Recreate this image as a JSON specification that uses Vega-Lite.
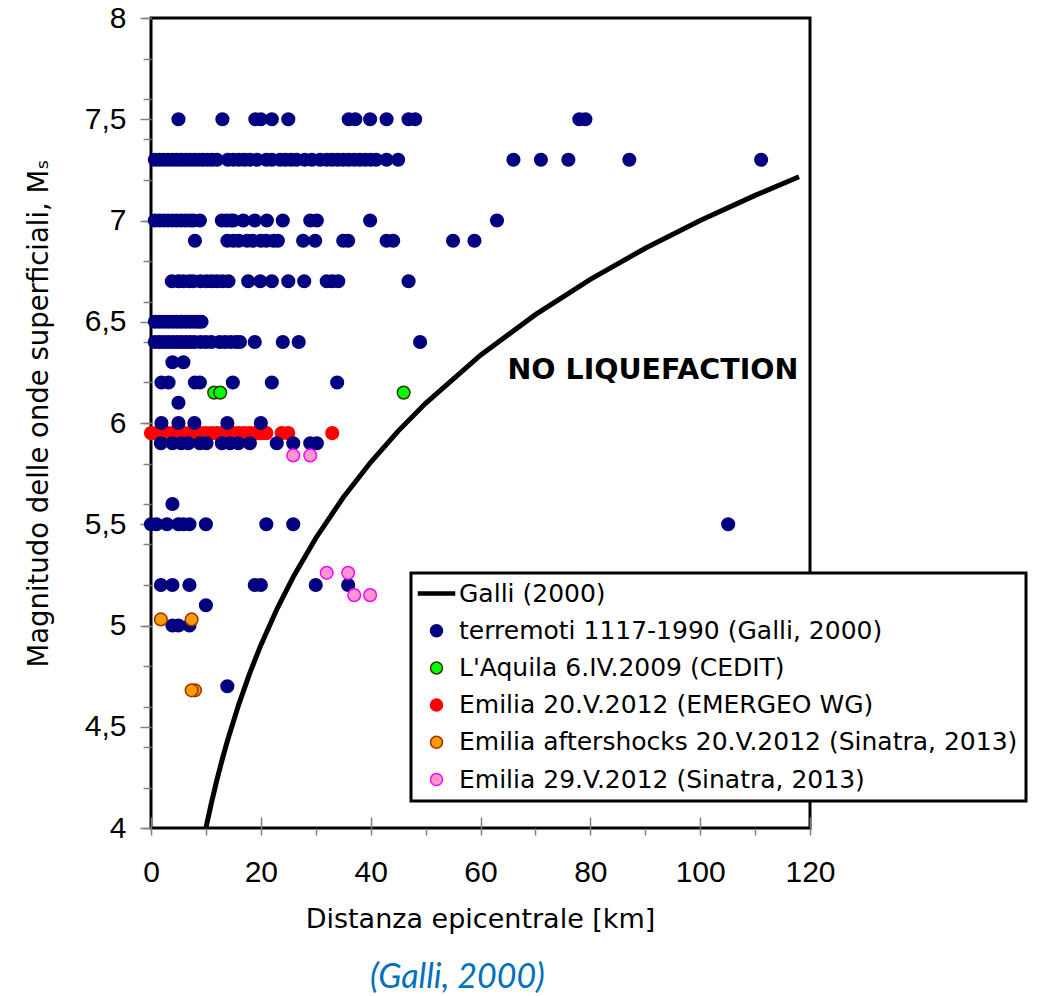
{
  "$schema": "https://vega.github.io/schema/vega-lite/v6.json",
  "width": 659,
  "height": 810,
  "autosize": {"type": "none"},
  "padding": {"left": 151, "top": 18, "right": 227, "bottom": 168},
  "background": "white",
  "config": {
    "view": {"stroke": "#000", "strokeWidth": 3},
    "legend": {"strokeWidth": 3},
    "axis": {
      "grid": false,
      "domain": false,
      "tickColor": "#808080",
      "tickWidth": 1.5,
      "labelFont": "Liberation Sans",
      "labelFontSize": 30,
      "labelColor": "#000",
      "labelOverlap": false,
      "labelFlush": false,
      "titleColor": "#000",
      "titleFont": "DejaVu Sans",
      "titleFontSize": 27,
      "titleFontWeight": "normal"
    }
  },
  "datasets": {
    "curve": [
      {"d": 10, "m": 4.0}, {"d": 11, "m": 4.124}, {"d": 12, "m": 4.238}, {"d": 13, "m": 4.342},
      {"d": 14, "m": 4.438}, {"d": 16, "m": 4.612}, {"d": 18, "m": 4.766}, {"d": 20, "m": 4.903},
      {"d": 23, "m": 5.085}, {"d": 26, "m": 5.245}, {"d": 30, "m": 5.431}, {"d": 35, "m": 5.632},
      {"d": 40, "m": 5.806}, {"d": 45, "m": 5.96}, {"d": 50, "m": 6.097}, {"d": 60, "m": 6.335},
      {"d": 70, "m": 6.535}, {"d": 80, "m": 6.709}, {"d": 90, "m": 6.863}, {"d": 100, "m": 7.0},
      {"d": 110, "m": 7.124}, {"d": 118, "m": 7.216}
    ],
    "pts": [
      {"s": "Emilia 20.V.2012 (EMERGEO WG)", "d": 0, "m": 5.95},
      {"s": "Emilia 20.V.2012 (EMERGEO WG)", "d": 1, "m": 5.95},
      {"s": "Emilia 20.V.2012 (EMERGEO WG)", "d": 2, "m": 5.95},
      {"s": "Emilia 20.V.2012 (EMERGEO WG)", "d": 3, "m": 5.95},
      {"s": "Emilia 20.V.2012 (EMERGEO WG)", "d": 4, "m": 5.95},
      {"s": "Emilia 20.V.2012 (EMERGEO WG)", "d": 5, "m": 5.95},
      {"s": "Emilia 20.V.2012 (EMERGEO WG)", "d": 6, "m": 5.95},
      {"s": "Emilia 20.V.2012 (EMERGEO WG)", "d": 7, "m": 5.95},
      {"s": "Emilia 20.V.2012 (EMERGEO WG)", "d": 8, "m": 5.95},
      {"s": "Emilia 20.V.2012 (EMERGEO WG)", "d": 9, "m": 5.95},
      {"s": "Emilia 20.V.2012 (EMERGEO WG)", "d": 10, "m": 5.95},
      {"s": "Emilia 20.V.2012 (EMERGEO WG)", "d": 11, "m": 5.95},
      {"s": "Emilia 20.V.2012 (EMERGEO WG)", "d": 12, "m": 5.95},
      {"s": "Emilia 20.V.2012 (EMERGEO WG)", "d": 13, "m": 5.95},
      {"s": "Emilia 20.V.2012 (EMERGEO WG)", "d": 14, "m": 5.95},
      {"s": "Emilia 20.V.2012 (EMERGEO WG)", "d": 15, "m": 5.95},
      {"s": "Emilia 20.V.2012 (EMERGEO WG)", "d": 16, "m": 5.95},
      {"s": "Emilia 20.V.2012 (EMERGEO WG)", "d": 17, "m": 5.95},
      {"s": "Emilia 20.V.2012 (EMERGEO WG)", "d": 18, "m": 5.95},
      {"s": "Emilia 20.V.2012 (EMERGEO WG)", "d": 19, "m": 5.95},
      {"s": "Emilia 20.V.2012 (EMERGEO WG)", "d": 20, "m": 5.95},
      {"s": "Emilia 20.V.2012 (EMERGEO WG)", "d": 21, "m": 5.95},
      {"s": "Emilia 20.V.2012 (EMERGEO WG)", "d": 23.8, "m": 5.95},
      {"s": "Emilia 20.V.2012 (EMERGEO WG)", "d": 25, "m": 5.95},
      {"s": "Emilia 20.V.2012 (EMERGEO WG)", "d": 33, "m": 5.95},

      {"s": "terremoti 1117-1990 (Galli, 2000)", "d": 5, "m": 7.5},
      {"s": "terremoti 1117-1990 (Galli, 2000)", "d": 13, "m": 7.5},
      {"s": "terremoti 1117-1990 (Galli, 2000)", "d": 19, "m": 7.5},
      {"s": "terremoti 1117-1990 (Galli, 2000)", "d": 20, "m": 7.5},
      {"s": "terremoti 1117-1990 (Galli, 2000)", "d": 22, "m": 7.5},
      {"s": "terremoti 1117-1990 (Galli, 2000)", "d": 25, "m": 7.5},
      {"s": "terremoti 1117-1990 (Galli, 2000)", "d": 36, "m": 7.5},
      {"s": "terremoti 1117-1990 (Galli, 2000)", "d": 37.2, "m": 7.5},
      {"s": "terremoti 1117-1990 (Galli, 2000)", "d": 39.9, "m": 7.5},
      {"s": "terremoti 1117-1990 (Galli, 2000)", "d": 42.9, "m": 7.5},
      {"s": "terremoti 1117-1990 (Galli, 2000)", "d": 46.9, "m": 7.5},
      {"s": "terremoti 1117-1990 (Galli, 2000)", "d": 48.1, "m": 7.5},
      {"s": "terremoti 1117-1990 (Galli, 2000)", "d": 78, "m": 7.5},
      {"s": "terremoti 1117-1990 (Galli, 2000)", "d": 79.1, "m": 7.5},

      {"s": "terremoti 1117-1990 (Galli, 2000)", "d": 0.7, "m": 7.3},
      {"s": "terremoti 1117-1990 (Galli, 2000)", "d": 1.5, "m": 7.3},
      {"s": "terremoti 1117-1990 (Galli, 2000)", "d": 2.3, "m": 7.3},
      {"s": "terremoti 1117-1990 (Galli, 2000)", "d": 3.1, "m": 7.3},
      {"s": "terremoti 1117-1990 (Galli, 2000)", "d": 3.9, "m": 7.3},
      {"s": "terremoti 1117-1990 (Galli, 2000)", "d": 4.7, "m": 7.3},
      {"s": "terremoti 1117-1990 (Galli, 2000)", "d": 5.5, "m": 7.3},
      {"s": "terremoti 1117-1990 (Galli, 2000)", "d": 6.3, "m": 7.3},
      {"s": "terremoti 1117-1990 (Galli, 2000)", "d": 7.1, "m": 7.3},
      {"s": "terremoti 1117-1990 (Galli, 2000)", "d": 7.9, "m": 7.3},
      {"s": "terremoti 1117-1990 (Galli, 2000)", "d": 8.7, "m": 7.3},
      {"s": "terremoti 1117-1990 (Galli, 2000)", "d": 9.5, "m": 7.3},
      {"s": "terremoti 1117-1990 (Galli, 2000)", "d": 10.3, "m": 7.3},
      {"s": "terremoti 1117-1990 (Galli, 2000)", "d": 11.1, "m": 7.3},
      {"s": "terremoti 1117-1990 (Galli, 2000)", "d": 12, "m": 7.3},
      {"s": "terremoti 1117-1990 (Galli, 2000)", "d": 14, "m": 7.3},
      {"s": "terremoti 1117-1990 (Galli, 2000)", "d": 15, "m": 7.3},
      {"s": "terremoti 1117-1990 (Galli, 2000)", "d": 16, "m": 7.3},
      {"s": "terremoti 1117-1990 (Galli, 2000)", "d": 17, "m": 7.3},
      {"s": "terremoti 1117-1990 (Galli, 2000)", "d": 18, "m": 7.3},
      {"s": "terremoti 1117-1990 (Galli, 2000)", "d": 19.3, "m": 7.3},
      {"s": "terremoti 1117-1990 (Galli, 2000)", "d": 21, "m": 7.3},
      {"s": "terremoti 1117-1990 (Galli, 2000)", "d": 22, "m": 7.3},
      {"s": "terremoti 1117-1990 (Galli, 2000)", "d": 23.5, "m": 7.3},
      {"s": "terremoti 1117-1990 (Galli, 2000)", "d": 24.5, "m": 7.3},
      {"s": "terremoti 1117-1990 (Galli, 2000)", "d": 25.5, "m": 7.3},
      {"s": "terremoti 1117-1990 (Galli, 2000)", "d": 26.5, "m": 7.3},
      {"s": "terremoti 1117-1990 (Galli, 2000)", "d": 28, "m": 7.3},
      {"s": "terremoti 1117-1990 (Galli, 2000)", "d": 29.3, "m": 7.3},
      {"s": "terremoti 1117-1990 (Galli, 2000)", "d": 30.8, "m": 7.3},
      {"s": "terremoti 1117-1990 (Galli, 2000)", "d": 32, "m": 7.3},
      {"s": "terremoti 1117-1990 (Galli, 2000)", "d": 33, "m": 7.3},
      {"s": "terremoti 1117-1990 (Galli, 2000)", "d": 34, "m": 7.3},
      {"s": "terremoti 1117-1990 (Galli, 2000)", "d": 35, "m": 7.3},
      {"s": "terremoti 1117-1990 (Galli, 2000)", "d": 36, "m": 7.3},
      {"s": "terremoti 1117-1990 (Galli, 2000)", "d": 37, "m": 7.3},
      {"s": "terremoti 1117-1990 (Galli, 2000)", "d": 38, "m": 7.3},
      {"s": "terremoti 1117-1990 (Galli, 2000)", "d": 39, "m": 7.3},
      {"s": "terremoti 1117-1990 (Galli, 2000)", "d": 40, "m": 7.3},
      {"s": "terremoti 1117-1990 (Galli, 2000)", "d": 41, "m": 7.3},
      {"s": "terremoti 1117-1990 (Galli, 2000)", "d": 42.9, "m": 7.3},
      {"s": "terremoti 1117-1990 (Galli, 2000)", "d": 45, "m": 7.3},
      {"s": "terremoti 1117-1990 (Galli, 2000)", "d": 66, "m": 7.3},
      {"s": "terremoti 1117-1990 (Galli, 2000)", "d": 71, "m": 7.3},
      {"s": "terremoti 1117-1990 (Galli, 2000)", "d": 76, "m": 7.3},
      {"s": "terremoti 1117-1990 (Galli, 2000)", "d": 87.1, "m": 7.3},
      {"s": "terremoti 1117-1990 (Galli, 2000)", "d": 111.1, "m": 7.3},

      {"s": "terremoti 1117-1990 (Galli, 2000)", "d": 0.7, "m": 7.0},
      {"s": "terremoti 1117-1990 (Galli, 2000)", "d": 1.5, "m": 7.0},
      {"s": "terremoti 1117-1990 (Galli, 2000)", "d": 2.3, "m": 7.0},
      {"s": "terremoti 1117-1990 (Galli, 2000)", "d": 3.1, "m": 7.0},
      {"s": "terremoti 1117-1990 (Galli, 2000)", "d": 3.9, "m": 7.0},
      {"s": "terremoti 1117-1990 (Galli, 2000)", "d": 4.7, "m": 7.0},
      {"s": "terremoti 1117-1990 (Galli, 2000)", "d": 5.5, "m": 7.0},
      {"s": "terremoti 1117-1990 (Galli, 2000)", "d": 6.3, "m": 7.0},
      {"s": "terremoti 1117-1990 (Galli, 2000)", "d": 7.1, "m": 7.0},
      {"s": "terremoti 1117-1990 (Galli, 2000)", "d": 7.7, "m": 7.0},
      {"s": "terremoti 1117-1990 (Galli, 2000)", "d": 8.9, "m": 7.0},
      {"s": "terremoti 1117-1990 (Galli, 2000)", "d": 12.9, "m": 7.0},
      {"s": "terremoti 1117-1990 (Galli, 2000)", "d": 13.7, "m": 7.0},
      {"s": "terremoti 1117-1990 (Galli, 2000)", "d": 14.5, "m": 7.0},
      {"s": "terremoti 1117-1990 (Galli, 2000)", "d": 15, "m": 7.0},
      {"s": "terremoti 1117-1990 (Galli, 2000)", "d": 16.8, "m": 7.0},
      {"s": "terremoti 1117-1990 (Galli, 2000)", "d": 18.9, "m": 7.0},
      {"s": "terremoti 1117-1990 (Galli, 2000)", "d": 21.1, "m": 7.0},
      {"s": "terremoti 1117-1990 (Galli, 2000)", "d": 24, "m": 7.0},
      {"s": "terremoti 1117-1990 (Galli, 2000)", "d": 29, "m": 7.0},
      {"s": "terremoti 1117-1990 (Galli, 2000)", "d": 30.2, "m": 7.0},
      {"s": "terremoti 1117-1990 (Galli, 2000)", "d": 39.9, "m": 7.0},
      {"s": "terremoti 1117-1990 (Galli, 2000)", "d": 63, "m": 7.0},

      {"s": "terremoti 1117-1990 (Galli, 2000)", "d": 8, "m": 6.9},
      {"s": "terremoti 1117-1990 (Galli, 2000)", "d": 13.9, "m": 6.9},
      {"s": "terremoti 1117-1990 (Galli, 2000)", "d": 15, "m": 6.9},
      {"s": "terremoti 1117-1990 (Galli, 2000)", "d": 16, "m": 6.9},
      {"s": "terremoti 1117-1990 (Galli, 2000)", "d": 17.5, "m": 6.9},
      {"s": "terremoti 1117-1990 (Galli, 2000)", "d": 18.5, "m": 6.9},
      {"s": "terremoti 1117-1990 (Galli, 2000)", "d": 20, "m": 6.9},
      {"s": "terremoti 1117-1990 (Galli, 2000)", "d": 21, "m": 6.9},
      {"s": "terremoti 1117-1990 (Galli, 2000)", "d": 22.3, "m": 6.9},
      {"s": "terremoti 1117-1990 (Galli, 2000)", "d": 23.1, "m": 6.9},
      {"s": "terremoti 1117-1990 (Galli, 2000)", "d": 27.7, "m": 6.9},
      {"s": "terremoti 1117-1990 (Galli, 2000)", "d": 29.9, "m": 6.9},
      {"s": "terremoti 1117-1990 (Galli, 2000)", "d": 35, "m": 6.9},
      {"s": "terremoti 1117-1990 (Galli, 2000)", "d": 35.9, "m": 6.9},
      {"s": "terremoti 1117-1990 (Galli, 2000)", "d": 42.9, "m": 6.9},
      {"s": "terremoti 1117-1990 (Galli, 2000)", "d": 44.1, "m": 6.9},
      {"s": "terremoti 1117-1990 (Galli, 2000)", "d": 55, "m": 6.9},
      {"s": "terremoti 1117-1990 (Galli, 2000)", "d": 58.9, "m": 6.9},

      {"s": "terremoti 1117-1990 (Galli, 2000)", "d": 3.8, "m": 6.7},
      {"s": "terremoti 1117-1990 (Galli, 2000)", "d": 5, "m": 6.7},
      {"s": "terremoti 1117-1990 (Galli, 2000)", "d": 5.9, "m": 6.7},
      {"s": "terremoti 1117-1990 (Galli, 2000)", "d": 7, "m": 6.7},
      {"s": "terremoti 1117-1990 (Galli, 2000)", "d": 7.7, "m": 6.7},
      {"s": "terremoti 1117-1990 (Galli, 2000)", "d": 9, "m": 6.7},
      {"s": "terremoti 1117-1990 (Galli, 2000)", "d": 10.1, "m": 6.7},
      {"s": "terremoti 1117-1990 (Galli, 2000)", "d": 11, "m": 6.7},
      {"s": "terremoti 1117-1990 (Galli, 2000)", "d": 12, "m": 6.7},
      {"s": "terremoti 1117-1990 (Galli, 2000)", "d": 13, "m": 6.7},
      {"s": "terremoti 1117-1990 (Galli, 2000)", "d": 14.1, "m": 6.7},
      {"s": "terremoti 1117-1990 (Galli, 2000)", "d": 17.7, "m": 6.7},
      {"s": "terremoti 1117-1990 (Galli, 2000)", "d": 19.9, "m": 6.7},
      {"s": "terremoti 1117-1990 (Galli, 2000)", "d": 22, "m": 6.7},
      {"s": "terremoti 1117-1990 (Galli, 2000)", "d": 25, "m": 6.7},
      {"s": "terremoti 1117-1990 (Galli, 2000)", "d": 27.9, "m": 6.7},
      {"s": "terremoti 1117-1990 (Galli, 2000)", "d": 32, "m": 6.7},
      {"s": "terremoti 1117-1990 (Galli, 2000)", "d": 33, "m": 6.7},
      {"s": "terremoti 1117-1990 (Galli, 2000)", "d": 34.1, "m": 6.7},
      {"s": "terremoti 1117-1990 (Galli, 2000)", "d": 46.9, "m": 6.7},

      {"s": "terremoti 1117-1990 (Galli, 2000)", "d": 0.7, "m": 6.5},
      {"s": "terremoti 1117-1990 (Galli, 2000)", "d": 1.5, "m": 6.5},
      {"s": "terremoti 1117-1990 (Galli, 2000)", "d": 2.3, "m": 6.5},
      {"s": "terremoti 1117-1990 (Galli, 2000)", "d": 3.1, "m": 6.5},
      {"s": "terremoti 1117-1990 (Galli, 2000)", "d": 3.9, "m": 6.5},
      {"s": "terremoti 1117-1990 (Galli, 2000)", "d": 4.7, "m": 6.5},
      {"s": "terremoti 1117-1990 (Galli, 2000)", "d": 5.5, "m": 6.5},
      {"s": "terremoti 1117-1990 (Galli, 2000)", "d": 6.3, "m": 6.5},
      {"s": "terremoti 1117-1990 (Galli, 2000)", "d": 7.1, "m": 6.5},
      {"s": "terremoti 1117-1990 (Galli, 2000)", "d": 7.9, "m": 6.5},
      {"s": "terremoti 1117-1990 (Galli, 2000)", "d": 8.6, "m": 6.5},
      {"s": "terremoti 1117-1990 (Galli, 2000)", "d": 9.2, "m": 6.5},

      {"s": "terremoti 1117-1990 (Galli, 2000)", "d": 0.7, "m": 6.4},
      {"s": "terremoti 1117-1990 (Galli, 2000)", "d": 1.5, "m": 6.4},
      {"s": "terremoti 1117-1990 (Galli, 2000)", "d": 2.3, "m": 6.4},
      {"s": "terremoti 1117-1990 (Galli, 2000)", "d": 3.1, "m": 6.4},
      {"s": "terremoti 1117-1990 (Galli, 2000)", "d": 3.9, "m": 6.4},
      {"s": "terremoti 1117-1990 (Galli, 2000)", "d": 4.7, "m": 6.4},
      {"s": "terremoti 1117-1990 (Galli, 2000)", "d": 5.5, "m": 6.4},
      {"s": "terremoti 1117-1990 (Galli, 2000)", "d": 6.3, "m": 6.4},
      {"s": "terremoti 1117-1990 (Galli, 2000)", "d": 7.1, "m": 6.4},
      {"s": "terremoti 1117-1990 (Galli, 2000)", "d": 7.9, "m": 6.4},
      {"s": "terremoti 1117-1990 (Galli, 2000)", "d": 9, "m": 6.4},
      {"s": "terremoti 1117-1990 (Galli, 2000)", "d": 10, "m": 6.4},
      {"s": "terremoti 1117-1990 (Galli, 2000)", "d": 11, "m": 6.4},
      {"s": "terremoti 1117-1990 (Galli, 2000)", "d": 12.5, "m": 6.4},
      {"s": "terremoti 1117-1990 (Galli, 2000)", "d": 13.5, "m": 6.4},
      {"s": "terremoti 1117-1990 (Galli, 2000)", "d": 14.5, "m": 6.4},
      {"s": "terremoti 1117-1990 (Galli, 2000)", "d": 15.5, "m": 6.4},
      {"s": "terremoti 1117-1990 (Galli, 2000)", "d": 16.2, "m": 6.4},
      {"s": "terremoti 1117-1990 (Galli, 2000)", "d": 18.9, "m": 6.4},
      {"s": "terremoti 1117-1990 (Galli, 2000)", "d": 24, "m": 6.4},
      {"s": "terremoti 1117-1990 (Galli, 2000)", "d": 26.9, "m": 6.4},
      {"s": "terremoti 1117-1990 (Galli, 2000)", "d": 49, "m": 6.4},

      {"s": "terremoti 1117-1990 (Galli, 2000)", "d": 3.9, "m": 6.3},
      {"s": "terremoti 1117-1990 (Galli, 2000)", "d": 5.9, "m": 6.3},

      {"s": "terremoti 1117-1990 (Galli, 2000)", "d": 1.9, "m": 6.2},
      {"s": "terremoti 1117-1990 (Galli, 2000)", "d": 3.2, "m": 6.2},
      {"s": "terremoti 1117-1990 (Galli, 2000)", "d": 8, "m": 6.2},
      {"s": "terremoti 1117-1990 (Galli, 2000)", "d": 8.9, "m": 6.2},
      {"s": "terremoti 1117-1990 (Galli, 2000)", "d": 14.9, "m": 6.2},
      {"s": "terremoti 1117-1990 (Galli, 2000)", "d": 22, "m": 6.2},
      {"s": "terremoti 1117-1990 (Galli, 2000)", "d": 33.9, "m": 6.2},

      {"s": "terremoti 1117-1990 (Galli, 2000)", "d": 5, "m": 6.1},

      {"s": "terremoti 1117-1990 (Galli, 2000)", "d": 1.9, "m": 6.0},
      {"s": "terremoti 1117-1990 (Galli, 2000)", "d": 5, "m": 6.0},
      {"s": "terremoti 1117-1990 (Galli, 2000)", "d": 7.9, "m": 6.0},
      {"s": "terremoti 1117-1990 (Galli, 2000)", "d": 13.9, "m": 6.0},
      {"s": "terremoti 1117-1990 (Galli, 2000)", "d": 20, "m": 6.0},

      {"s": "terremoti 1117-1990 (Galli, 2000)", "d": 1.8, "m": 5.9},
      {"s": "terremoti 1117-1990 (Galli, 2000)", "d": 3.9, "m": 5.9},
      {"s": "terremoti 1117-1990 (Galli, 2000)", "d": 5.5, "m": 5.9},
      {"s": "terremoti 1117-1990 (Galli, 2000)", "d": 6.8, "m": 5.9},
      {"s": "terremoti 1117-1990 (Galli, 2000)", "d": 8.9, "m": 5.9},
      {"s": "terremoti 1117-1990 (Galli, 2000)", "d": 10.1, "m": 5.9},
      {"s": "terremoti 1117-1990 (Galli, 2000)", "d": 12.9, "m": 5.9},
      {"s": "terremoti 1117-1990 (Galli, 2000)", "d": 14.4, "m": 5.9},
      {"s": "terremoti 1117-1990 (Galli, 2000)", "d": 15.9, "m": 5.9},
      {"s": "terremoti 1117-1990 (Galli, 2000)", "d": 18, "m": 5.9},
      {"s": "terremoti 1117-1990 (Galli, 2000)", "d": 22.9, "m": 5.9},
      {"s": "terremoti 1117-1990 (Galli, 2000)", "d": 25.9, "m": 5.9},
      {"s": "terremoti 1117-1990 (Galli, 2000)", "d": 29, "m": 5.9},
      {"s": "terremoti 1117-1990 (Galli, 2000)", "d": 30.2, "m": 5.9},

      {"s": "terremoti 1117-1990 (Galli, 2000)", "d": 3.9, "m": 5.6},

      {"s": "terremoti 1117-1990 (Galli, 2000)", "d": 0, "m": 5.5},
      {"s": "terremoti 1117-1990 (Galli, 2000)", "d": 1, "m": 5.5},
      {"s": "terremoti 1117-1990 (Galli, 2000)", "d": 2.9, "m": 5.5},
      {"s": "terremoti 1117-1990 (Galli, 2000)", "d": 5, "m": 5.5},
      {"s": "terremoti 1117-1990 (Galli, 2000)", "d": 5.9, "m": 5.5},
      {"s": "terremoti 1117-1990 (Galli, 2000)", "d": 7, "m": 5.5},
      {"s": "terremoti 1117-1990 (Galli, 2000)", "d": 10, "m": 5.5},
      {"s": "terremoti 1117-1990 (Galli, 2000)", "d": 21, "m": 5.5},
      {"s": "terremoti 1117-1990 (Galli, 2000)", "d": 25.9, "m": 5.5},
      {"s": "terremoti 1117-1990 (Galli, 2000)", "d": 105.1, "m": 5.5},

      {"s": "terremoti 1117-1990 (Galli, 2000)", "d": 1.8, "m": 5.2},
      {"s": "terremoti 1117-1990 (Galli, 2000)", "d": 3.9, "m": 5.2},
      {"s": "terremoti 1117-1990 (Galli, 2000)", "d": 7, "m": 5.2},
      {"s": "terremoti 1117-1990 (Galli, 2000)", "d": 18.9, "m": 5.2},
      {"s": "terremoti 1117-1990 (Galli, 2000)", "d": 20, "m": 5.2},
      {"s": "terremoti 1117-1990 (Galli, 2000)", "d": 30, "m": 5.2},
      {"s": "terremoti 1117-1990 (Galli, 2000)", "d": 35.9, "m": 5.2},

      {"s": "terremoti 1117-1990 (Galli, 2000)", "d": 10, "m": 5.1},

      {"s": "terremoti 1117-1990 (Galli, 2000)", "d": 3.9, "m": 5.0},
      {"s": "terremoti 1117-1990 (Galli, 2000)", "d": 5, "m": 5.0},
      {"s": "terremoti 1117-1990 (Galli, 2000)", "d": 7, "m": 5.0},

      {"s": "terremoti 1117-1990 (Galli, 2000)", "d": 13.9, "m": 4.7},

      {"s": "L'Aquila 6.IV.2009 (CEDIT)", "d": 11.5, "m": 6.15},
      {"s": "L'Aquila 6.IV.2009 (CEDIT)", "d": 12.6, "m": 6.15},
      {"s": "L'Aquila 6.IV.2009 (CEDIT)", "d": 46, "m": 6.15},

      {"s": "Emilia aftershocks 20.V.2012 (Sinatra, 2013)", "d": 1.8, "m": 5.03},
      {"s": "Emilia aftershocks 20.V.2012 (Sinatra, 2013)", "d": 7.4, "m": 5.03},
      {"s": "Emilia aftershocks 20.V.2012 (Sinatra, 2013)", "d": 8.0, "m": 4.68},
      {"s": "Emilia aftershocks 20.V.2012 (Sinatra, 2013)", "d": 7.4, "m": 4.68},

      {"s": "Emilia 29.V.2012 (Sinatra, 2013)", "d": 25.9, "m": 5.84},
      {"s": "Emilia 29.V.2012 (Sinatra, 2013)", "d": 29, "m": 5.84},
      {"s": "Emilia 29.V.2012 (Sinatra, 2013)", "d": 32, "m": 5.26},
      {"s": "Emilia 29.V.2012 (Sinatra, 2013)", "d": 35.9, "m": 5.26},
      {"s": "Emilia 29.V.2012 (Sinatra, 2013)", "d": 37, "m": 5.15},
      {"s": "Emilia 29.V.2012 (Sinatra, 2013)", "d": 39.9, "m": 5.15}
    ]
  },
  "layer": [
    {
      "data": {"name": "curve"},
      "mark": {"type": "line", "stroke": "#000", "strokeWidth": 5},
      "encoding": {
        "x": {
          "field": "d", "type": "quantitative",
          "scale": {"domain": [0, 120], "nice": false, "zero": false},
          "axis": {
            "orient": "bottom",
            "values": [0, 10, 20, 30, 40, 50, 60, 70, 80, 90, 100, 110, 120],
            "tickSize": 7,
            "labelPadding": 22,
            "labelExpr": "datum.value % 20 === 0 ? '' + datum.value : ''",
            "title": "Distanza epicentrale [km]",
            "titleX": 329,
            "titleY": 99,
            "titleAlign": "center",
            "titleBaseline": "alphabetic"
          }
        },
        "y": {
          "field": "m", "type": "quantitative",
          "scale": {"domain": [4, 8], "nice": false, "zero": false},
          "axis": {
            "orient": "left",
            "values": [4, 4.5, 5, 5.5, 6, 6.5, 7, 7.5, 8],
            "tickSize": 11,
            "labelPadding": 14,
            "labelExpr": "replace('' + datum.value, '.', ',')",
            "title": "Magnitudo delle onde superficiali, Mₛ",
            "titleFontSize": 27.5,
            "titleX": -104,
            "titleY": 395,
            "titleAngle": 270,
            "titleAlign": "center",
            "titleBaseline": "alphabetic"
          }
        }
      }
    },
    {
      "data": {"name": "pts"},
      "mark": {"type": "point", "filled": true, "size": 160, "strokeWidth": 1.5, "opacity": 1},
      "encoding": {
        "x": {
          "field": "d", "type": "quantitative",
          "scale": {"domain": [0, 120], "nice": false, "zero": false},
          "axis": {
            "orient": "bottom",
            "values": [0, 20, 40, 60, 80, 100, 120],
            "tickSize": -11,
            "labels": false,
            "title": "(Galli, 2000)",
            "titleFont": "Lato",
            "titleFontStyle": "italic",
            "titleFontSize": 34,
            "titleColor": "#0070C0",
            "titleX": 306,
            "titleY": 159,
            "titleAlign": "center",
            "titleBaseline": "alphabetic"
          }
        },
        "y": {
          "field": "m", "type": "quantitative",
          "scale": {"domain": [4, 8], "nice": false, "zero": false},
          "axis": {
            "orient": "left",
            "values": [4, 4.2, 4.4, 4.6, 4.8, 5, 5.2, 5.4, 5.6, 5.8, 6, 6.2, 6.4, 6.6, 6.8, 7, 7.2, 7.4, 7.6, 7.8, 8],
            "tickSize": 8,
            "labels": false,
            "title": null
          }
        },
        "fill": {
          "field": "s", "type": "nominal",
          "scale": {
            "domain": ["Galli (2000)", "terremoti 1117-1990 (Galli, 2000)", "L'Aquila 6.IV.2009 (CEDIT)", "Emilia 20.V.2012 (EMERGEO WG)", "Emilia aftershocks 20.V.2012 (Sinatra, 2013)", "Emilia 29.V.2012 (Sinatra, 2013)"],
            "range": ["#000000", "#000080", "#00FF00", "#FF0000", "#FF9900", "#FF99CC"]
          },
          "legend": {
            "orient": "none",
            "legendX": 260,
            "legendY": 555,
            "title": null,
            "labelFont": "DejaVu Sans",
            "labelFontSize": 25,
            "labelColor": "#000",
            "labelLimit": 800,
            "labelOffset": 10,
            "symbolSize": 144,
            "symbolStrokeWidth": 1.5,
            "symbolOffset": 5,
            "rowPadding": 11.2,
            "padding": 8,
            "strokeColor": "#000",
            "fillColor": "#fff"
          }
        },
        "stroke": {
          "field": "s", "type": "nominal",
          "scale": {
            "domain": ["Galli (2000)", "terremoti 1117-1990 (Galli, 2000)", "L'Aquila 6.IV.2009 (CEDIT)", "Emilia 20.V.2012 (EMERGEO WG)", "Emilia aftershocks 20.V.2012 (Sinatra, 2013)", "Emilia 29.V.2012 (Sinatra, 2013)"],
            "range": ["#000000", "#000080", "#333300", "#FF0000", "#993300", "#FF00FF"]
          }
        },
        "shape": {
          "field": "s", "type": "nominal",
          "scale": {
            "domain": ["Galli (2000)", "terremoti 1117-1990 (Galli, 2000)", "L'Aquila 6.IV.2009 (CEDIT)", "Emilia 20.V.2012 (EMERGEO WG)", "Emilia aftershocks 20.V.2012 (Sinatra, 2013)", "Emilia 29.V.2012 (Sinatra, 2013)"],
            "range": ["M-3,-0.25H3V0.25H-3Z", "circle", "circle", "circle", "circle", "circle"]
          }
        }
      }
    },
    {
      "data": {"values": [{}]},
      "mark": {"type": "text", "text": "NO LIQUEFACTION", "font": "DejaVu Sans", "fontWeight": "bold", "fontSize": 28.5, "align": "center", "baseline": "middle", "color": "#000"},
      "encoding": {
        "x": {"datum": 91.4, "type": "quantitative", "scale": {"domain": [0, 120], "nice": false, "zero": false}, "axis": null},
        "y": {"datum": 6.26, "type": "quantitative", "scale": {"domain": [4, 8], "nice": false, "zero": false}, "axis": null}
      }
    }
  ],
  "resolve": {"axis": {"x": "independent", "y": "independent"}}
}
